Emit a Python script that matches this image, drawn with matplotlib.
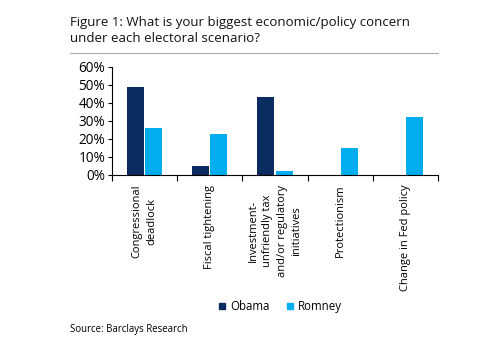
import matplotlib
matplotlib.use("Agg")
import matplotlib.pyplot as plt
import numpy as np
from matplotlib.lines import Line2D
from matplotlib.ticker import FuncFormatter

categories = ["Congressional\ndeadlock", "Fiscal tightening",
              "Investment-\nunfriendly tax\nand/or regulatory\ninitiatives",
              "Protectionism", "Change in Fed policy"]
obama = [49, 5, 43, 0, 0]
romney = [26, 23, 2, 15, 32]
series_names = ["Obama", "Romney"]
yticks = [0, 10, 20, 30, 40, 50, 60]

c_obama = "#0b2c61"
c_romney = "#00aeef"

plt.rcParams['font.family'] = ['Open Sans', 'DejaVu Sans']

fig = plt.figure(figsize=(5, 3.5), dpi=100)
ax = fig.add_axes([0.224, 0.5, 0.652, 0.309])

x = np.arange(len(categories)) + 0.5
w = 0.26
ax.bar(x - w / 2 - 0.01, obama, width=w, color=c_obama)
ax.bar(x + w / 2 + 0.01, romney, width=w, color=c_romney)

ax.set_xlim(0, len(categories))
ax.set_ylim(0, 60)
ax.set_yticks(yticks)
ax.yaxis.set_major_formatter(FuncFormatter(lambda v, p: f"{int(v)}%"))
ax.set_xticks(np.arange(len(categories) + 1))
ax.set_xticklabels([])
ax.tick_params(axis='x', direction='out', length=4, width=0.8)
ax.tick_params(axis='y', direction='out', length=3, width=0.8, labelsize=9.8, pad=2)
for s in ["top", "right"]:
    ax.spines[s].set_visible(False)
for s in ["left", "bottom"]:
    ax.spines[s].set_linewidth(0.8)

for xi, cat in zip(x, categories):
    ax.annotate(cat, xy=(xi, 0), xycoords='data', xytext=(0, -7),
                textcoords='offset points', rotation=90, ha='center', va='top',
                multialignment='center', fontsize=8.0, linespacing=1.45)

fig.text(0.14, 0.913, "Figure 1: What is your biggest economic/policy concern\nunder each electoral scenario?",
         fontsize=9.5, ha='left', va='center', linespacing=1.25, color='#111111')
fig.add_artist(Line2D([0.14, 0.876], [0.849, 0.849], color='#aaaaaa', lw=0.8))

handles = [Line2D([], [], marker='s', ls='none', color=c_obama, markersize=4),
           Line2D([], [], marker='s', ls='none', color=c_romney, markersize=4)]
fig.legend(handles, series_names, loc='center', bbox_to_anchor=(0.558, 0.125),
           ncol=2, frameon=False, fontsize=8.3, handletextpad=0.2,
           columnspacing=1.3, handlelength=1.0)

fig.text(0.14, 0.058, "Source: Barclays Research", fontsize=6.9, ha='left', va='center')

fig.savefig("out.png", dpi=100)
